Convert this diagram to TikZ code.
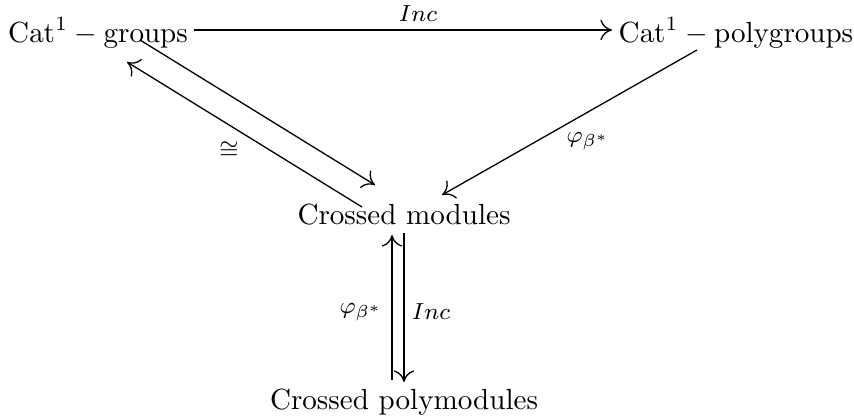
\documentclass[tikz,border=0pt]{standalone}
\usepackage{amssymb}
\usepackage{tikz}
\usetikzlibrary{arrows.meta,calc,positioning}
\tikzset{
  obj/.style={anchor=base, inner sep=0pt, font=\normalsize},
  arr/.style={-{To[length=4pt,width=7pt]}, line width=0.45pt},
  lbl/.style={font=\footnotesize, inner sep=1pt},
}
\begin{document}
\begin{tikzpicture}[x=0.01208cm,y=-0.01208cm]
  \useasboundingbox (0,0) rectangle (854,420);
  % objects (base points)
  \node[obj] (grp)  at (98,43)   {$\mathrm{Cat}^1-\mathrm{groups}$};
  \node[obj] (pgrp) at (736,43)  {$\mathrm{Cat}^1-\mathrm{polygroups}$};
  \node[obj] (xmod) at (404,225) {Crossed modules};
  \node[obj] (xpol) at (404,410) {Crossed polymodules};

  % top row
  \draw[arr] ([shift={(96,-13)}]grp.base) -- ([shift={(-124,-13)}]pgrp.base);
  \node[lbl] (lInc) at (418,14) {$Inc$};

  % left pair
  \draw[arr] ([shift={(42,-3)}]grp.base) -- ([shift={(-29,-40)}]xmod.base);
  \draw[arr] ([shift={(-42,-18)}]xmod.base) -- ([shift={(29,19)}]grp.base);
  \node[lbl] (lIso) at (229,150) {$\cong$};

  % right diagonal
  \draw[arr] ([shift={(-39,7)}]pgrp.base) -- ([shift={(38,-30)}]xmod.base);
  \node[lbl] (lPhiR) at (588,141) {$\varphi_{\beta^*}$};

  % vertical pair
  \draw[arr] ([shift={(-12,-30)}]xpol.base) -- ([shift={(-12,10)}]xmod.base);
  \draw[arr] ([shift={(0,8)}]xmod.base) -- ([shift={(0,-28)}]xpol.base);
  \node[lbl] (lPhiV) at (361,312) {$\varphi_{\beta^*}$};
  \node[lbl] (lIncV) at (431,312) {$Inc$};
\end{tikzpicture}
\end{document}
